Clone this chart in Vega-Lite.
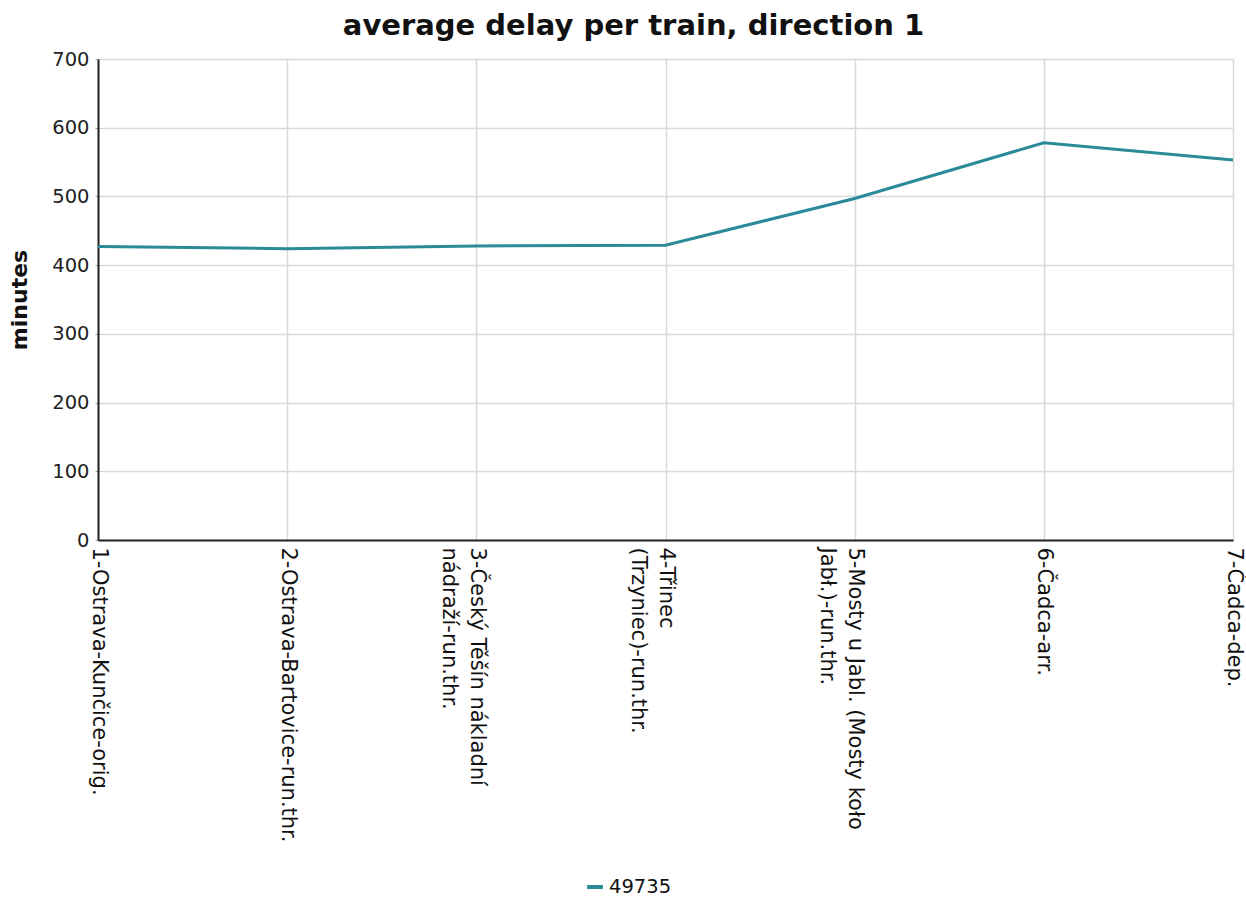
{
  "$schema": "https://vega.github.io/schema/vega-lite/v6.json",
  "width": 1135,
  "height": 481,
  "autosize": {"type": "none"},
  "padding": {"left": 98, "top": 59, "right": 13, "bottom": 358},
  "background": "white",
  "config": {
    "font": "DejaVu Sans",
    "view": {"stroke": null}
  },
  "title": {
    "text": "average delay per train, direction 1",
    "fontSize": 29,
    "fontWeight": "bold",
    "color": "#111111",
    "anchor": "middle",
    "dx": -32,
    "offset": 8
  },
  "data": {
    "values": [
      {"station": "1-Ostrava-Kunčice-orig.", "train": "49735", "delay": 427},
      {"station": "2-Ostrava-Bartovice-run.thr.", "train": "49735", "delay": 424},
      {"station": "3-Český Těšín nákladní nádraží-run.thr.", "train": "49735", "delay": 428},
      {"station": "4-Třinec (Trzyniec)-run.thr.", "train": "49735", "delay": 429},
      {"station": "5-Mosty u Jabl. (Mosty koło Jabł.)-run.thr.", "train": "49735", "delay": 497},
      {"station": "6-Čadca-arr.", "train": "49735", "delay": 578},
      {"station": "7-Čadca-dep.", "train": "49735", "delay": 553}
    ]
  },
  "mark": {"type": "line", "strokeWidth": 3},
  "encoding": {
    "x": {
      "field": "station",
      "type": "ordinal",
      "sort": null,
      "scale": {"type": "point", "padding": 0},
      "axis": {
        "title": null,
        "labelAngle": 90,
        "labelAlign": "left",
        "labelBaseline": "middle",
        "labelFontSize": 21,
        "labelColor": "#111111",
        "labelPadding": 7,
        "labelLimit": 400,
        "labelLineHeight": 28,
        "labelExpr": "datum.value == '3-Český Těšín nákladní nádraží-run.thr.' ? ['3-Český Těšín nákladní', 'nádraží-run.thr.'] : datum.value == '4-Třinec (Trzyniec)-run.thr.' ? ['4-Třinec', '(Trzyniec)-run.thr.'] : datum.value == '5-Mosty u Jabl. (Mosty koło Jabł.)-run.thr.' ? ['5-Mosty u Jabl.  (Mosty koło', 'Jabł.)-run.thr.'] : datum.value",
        "grid": true,
        "gridColor": "#d9d9d9",
        "gridWidth": 1.5,
        "domainColor": "#222222",
        "domainWidth": 2,
        "ticks": false
      }
    },
    "y": {
      "field": "delay",
      "type": "quantitative",
      "scale": {"domain": [0, 700], "nice": false},
      "axis": {
        "title": "minutes",
        "titleFontSize": 22,
        "titleFontWeight": "bold",
        "titleColor": "#111111",
        "titlePadding": 20,
        "values": [0, 100, 200, 300, 400, 500, 600, 700],
        "labelFontSize": 19.5,
        "labelColor": "#222222",
        "labelPadding": 6,
        "grid": true,
        "gridColor": "#d9d9d9",
        "gridWidth": 1.5,
        "domainColor": "#222222",
        "domainWidth": 2,
        "tickSize": 3,
        "tickColor": "#999999"
      }
    },
    "color": {
      "field": "train",
      "type": "nominal",
      "scale": {"range": ["#2b8a98"]},
      "legend": {
        "title": null,
        "orient": "none",
        "legendX": 487,
        "legendY": 818,
        "symbolType": "stroke",
        "symbolStrokeWidth": 4,
        "symbolSize": 250,
        "labelFontSize": 19.5,
        "labelColor": "#111111"
      }
    }
  }
}
